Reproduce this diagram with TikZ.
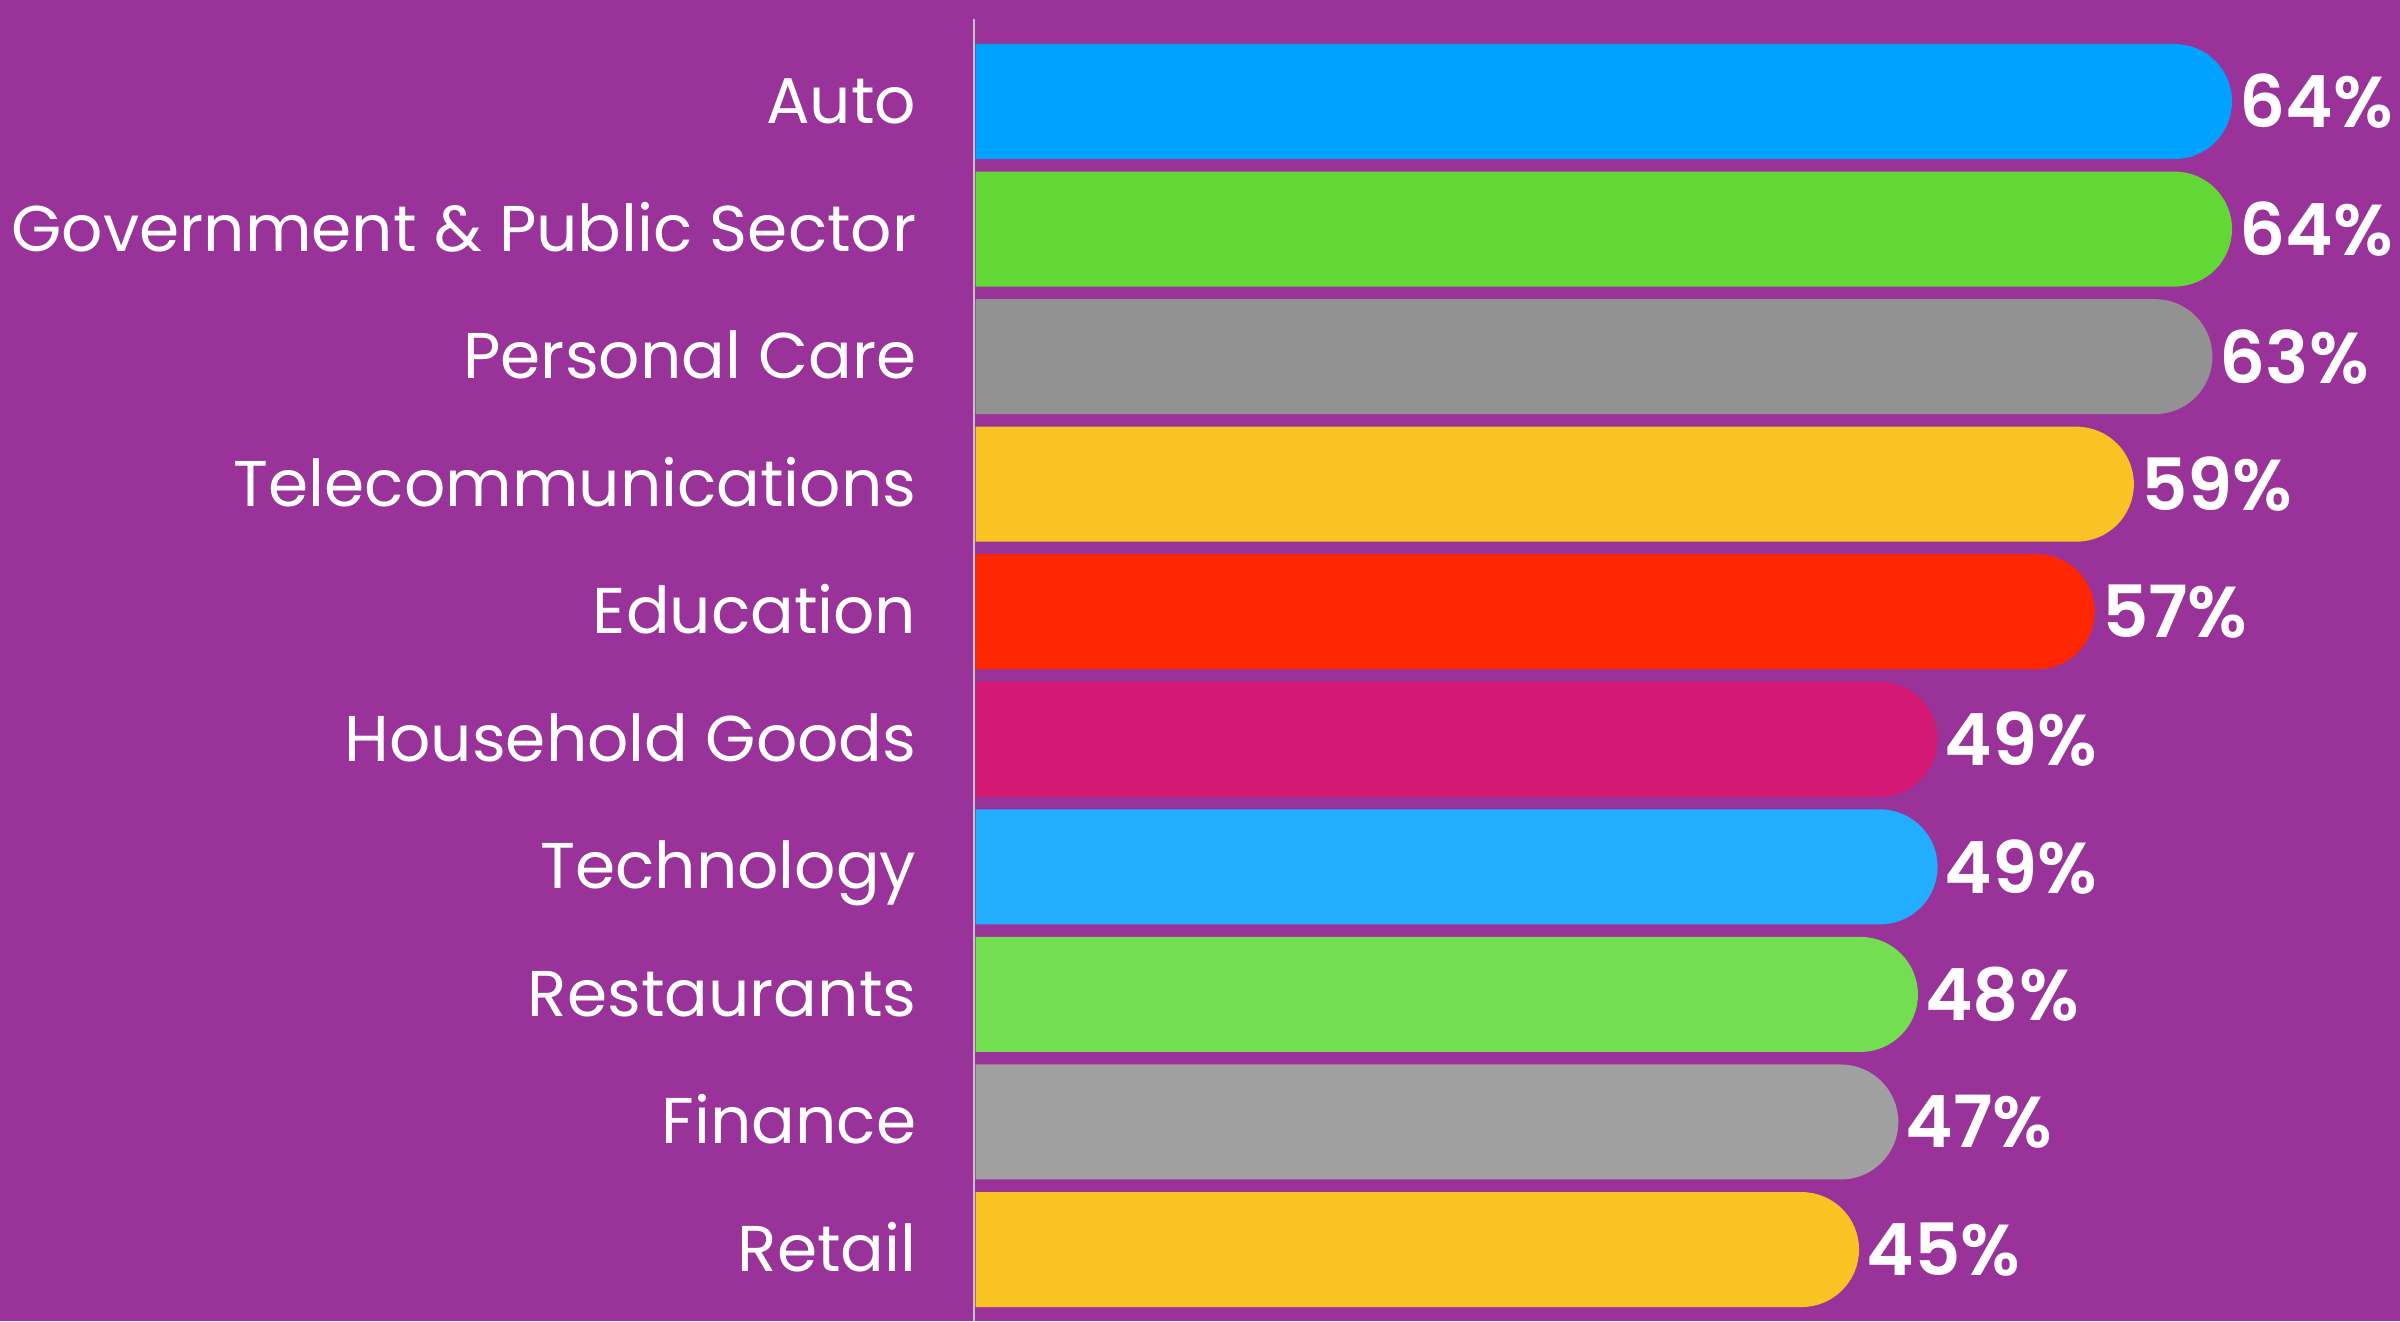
\documentclass[tikz,border=0pt]{standalone}
\usepackage{fontspec}
\setmainfont{Poppins}
\newfontfamily\pctfont{Poppins}[UprightFont=* SemiBold]
\usetikzlibrary{shapes.misc,positioning}
\definecolor{bgpurple}{HTML}{993399}
\definecolor{axisgray}{HTML}{C4C4C4}
\definecolor{cAuto}{HTML}{00A2FF}
\definecolor{cGov}{HTML}{61D836}
\definecolor{cCare}{HTML}{929292}
\definecolor{cTele}{HTML}{F8C323}
\definecolor{cEdu}{HTML}{FF2600}
\definecolor{cHouse}{HTML}{D31876}
\definecolor{cTech}{HTML}{22ADFF}
\definecolor{cRest}{HTML}{73DE52}
\definecolor{cFin}{HTML}{A0A0A0}
\definecolor{cRetail}{HTML}{F8C323}
\tikzset
{
    barnode/.style  = {rounded rectangle, rounded rectangle left arc=none, inner sep=0pt, minimum height=11.5mm, anchor=west},
    catlabel/.style = {anchor=base east, text=white, inner sep=0pt, font=\fontsize{18.4}{18.4}\selectfont},
    pctlabel/.style = {anchor=west, text=white, inner sep=0pt, font=\pctfont\fontsize{20.5}{20.5}\selectfont},
    axisline/.style = {draw=axisgray, line width=0.2mm}
}

\begin{document}
\begin{tikzpicture}[x=0.1mm, y=-0.1mm]
\fill[bgpurple] (0,0) rectangle (2400,1321);
\useasboundingbox (0,0) rectangle (2400,1321);
\foreach \name/\val/\col [count=\i] in {
    Auto/64/cAuto,
    Government \& Public Sector/64/cGov,
    Personal Care/63/cCare,
    Telecommunications/59/cTele,
    Education/57/cEdu,
    Household Goods/49/cHouse,
    Technology/49/cTech,
    Restaurants/48/cRest,
    Finance/47/cFin,
    Retail/45/cRetail}
{
    \pgfmathsetmacro{\yc}{101.5+127.56*(\i-1)}
    \node[barnode, fill=\col, minimum width=\val*1.963mm] (bar\i) at (975,\yc) {};
    \node[pctlabel, right=0.6mm of bar\i] (pct\i) {\val\%};
    \node[catlabel] (cat\i) at (917,\yc+22) {\name};
}
\coordinate (axtop) at (974,19);
\coordinate (axbot) at (974,1321);
\draw[axisline] (axtop) -- (axbot);
\end{tikzpicture}
\end{document}
